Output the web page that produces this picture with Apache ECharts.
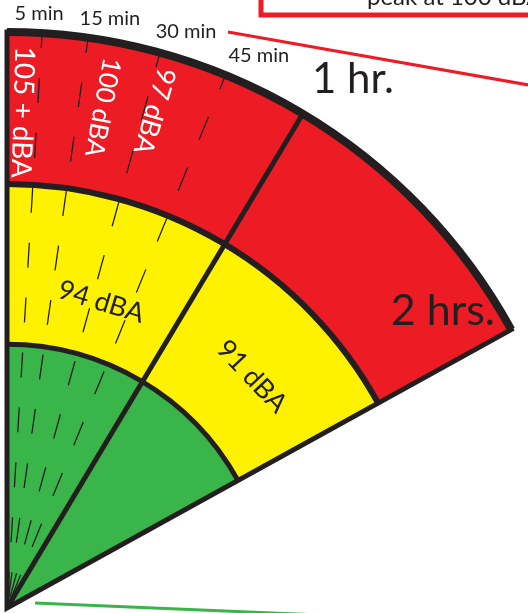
<!DOCTYPE html>
<html>
<head>
<meta charset="utf-8">
<script src="https://cdn.jsdelivr.net/npm/echarts@6/dist/echarts.min.js"></script>
<style>
  html, body { margin: 0; padding: 0; background: #fff; }
  #chart { width: 528px; height: 613px; }
</style>
</head>
<body>
<div id="chart"></div>
<script>
// fan: three exposure bands x two time wedges
// radius in % of the fan, angle in degrees clockwise from vertical
var bandOuter = [45.8, 73.6, 100];
var wedgeEdges = [0, 30.9, 61.1];

// minute marks inside the 1 hr wedge
var minuteLabels = ['5 min', '15 min', '30 min', '45 min', '1 hr.'];
var minuteDashAngles = [3.5, 8.1, 15.4, 22.3];
var minuteLabelAngles = [3.1, 9.9, 17.25, 24.5, 33.2];
var minuteLabelRadius = [103.3, 103.9, 104.8, 105.4, 109.7];

// sound level labels
var levelLabels = ['105 + dBA', '100 dBA', '97 dBA', '94 dBA', '91 dBA', '2 hrs.'];
var levelAngles = [1.8, 10.8, 16.5, 17.1, 46.6, 55.7];
var levelRadius = [86.1, 88.5, 90, 55.6, 58.5, 91.6];

var INK = '#231F20';
var FONT = 'Lato';
var bandColors = ['#39B54A', '#FFF200', '#ED1C24'];
var bandLineWidth = [5, 6, 8];
// color, size, orientation
var levelStyle = [
    ['#fff', 28, 'radial'],
    ['#fff', 26, 'radial'],
    ['#fff', 27, 'radial'],
    [INK, 27, 'tangent'],
    [INK, 27, 'tangent'],
    [INK, 43, 'flat']
];

var wedgeData = [];
bandOuter.forEach(function (r, b) {
    var r0 = b === 0 ? 0 : bandOuter[b - 1];
    for (var w = 0; w < wedgeEdges.length - 1; w++) {
        wedgeData.push([r0, r, wedgeEdges[w], wedgeEdges[w + 1], b]);
    }
});

function screenAngle(cs, p) {
    return Math.atan2(p[1] - cs.cy, p[0] - cs.cx);
}
function dist(cs, p) {
    return Math.sqrt((p[0] - cs.cx) * (p[0] - cs.cx) + (p[1] - cs.cy) * (p[1] - cs.cy));
}

function wedgeItem(params, api) {
    var cs = params.coordSys;
    var pIn = api.coord([api.value(0), api.value(2)]);
    var pA = api.coord([api.value(1), api.value(2)]);
    var pB = api.coord([api.value(1), api.value(3)]);
    return {
        type: 'sector',
        shape: {
            cx: cs.cx, cy: cs.cy, r0: dist(cs, pIn), r: dist(cs, pA),
            startAngle: screenAngle(cs, pA), endAngle: screenAngle(cs, pB), clockwise: true
        },
        style: { fill: bandColors[api.value(4)] }
    };
}

function dashItem(params, api) {
    var p0 = api.coord([0, api.value(0)]);
    var p1 = api.coord([100, api.value(0)]);
    return {
        type: 'line',
        shape: { x1: p0[0], y1: p0[1], x2: p1[0], y2: p1[1] },
        style: { stroke: INK, lineWidth: 1.3, lineDash: [25, 30], lineDashOffset: 44 }
    };
}

function outlineItem(params, api) {
    var cs = params.coordSys;
    var last = wedgeEdges[wedgeEdges.length - 1];
    var pA = api.coord([100, wedgeEdges[0]]);
    var pB = api.coord([100, last]);
    var children = [{
        type: 'sector',
        shape: { cx: cs.cx, cy: cs.cy, r0: 0, r: dist(cs, pA),
            startAngle: screenAngle(cs, pA), endAngle: screenAngle(cs, pB), clockwise: true },
        style: { fill: 'none', stroke: INK, lineWidth: 5, lineJoin: 'miter' }
    }];
    bandOuter.forEach(function (r, b) {
        var a = api.coord([r, wedgeEdges[0]]);
        var e = api.coord([r, last]);
        children.push({
            type: 'arc',
            shape: { cx: cs.cx, cy: cs.cy, r: dist(cs, a),
                startAngle: screenAngle(cs, a), endAngle: screenAngle(cs, e), clockwise: true },
            style: { fill: 'none', stroke: INK, lineWidth: bandLineWidth[b] }
        });
    });
    for (var w = 1; w < wedgeEdges.length - 1; w++) {
        var q0 = api.coord([0, wedgeEdges[w]]);
        var q1 = api.coord([100, wedgeEdges[w]]);
        children.push({
            type: 'line',
            shape: { x1: q0[0], y1: q0[1], x2: q1[0], y2: q1[1] },
            style: { stroke: INK, lineWidth: 5 }
        });
    }
    return { type: 'group', children: children };
}

function minuteLabelItem(params, api) {
    var i = params.dataIndex;
    var p = api.coord([api.value(0), api.value(1)]);
    return {
        type: 'text', x: p[0], y: p[1],
        style: {
            text: minuteLabels[i], fill: INK, fontFamily: FONT,
            fontSize: i === minuteLabels.length - 1 ? 42 : 20,
            align: 'center', verticalAlign: 'middle'
        }
    };
}

function levelLabelItem(params, api) {
    var i = params.dataIndex;
    var a = api.value(1);
    var st = levelStyle[i];
    var p = api.coord([api.value(0), a]);
    var rot = 0;
    if (st[2] === 'radial') rot = -(90 + a) * Math.PI / 180;
    if (st[2] === 'tangent') rot = -a * Math.PI / 180;
    return {
        type: 'text', x: p[0], y: p[1], rotation: rot,
        style: {
            text: levelLabels[i], fill: st[0], fontFamily: FONT, fontSize: st[1],
            align: 'center', verticalAlign: 'middle'
        }
    };
}

var chart = echarts.init(document.getElementById('chart'));
chart.setOption({
    animation: false,
    polar: { center: [7, 608], radius: 576 },
    angleAxis: { type: 'value', min: 0, max: 360, startAngle: 90, clockwise: true, show: false },
    radiusAxis: { type: 'value', min: 0, max: 100, show: false },
    graphic: [
        { type: 'rect', shape: { x: 261, y: -30, width: 320, height: 45 },
          style: { fill: 'none', stroke: '#ED1C24', lineWidth: 5 } },
        { type: 'text', x: 367, y: 9,
          style: { text: 'peak at 100 dBA', fill: INK, fontFamily: FONT, fontSize: 24, verticalAlign: 'bottom' } },
        { type: 'line', shape: { x1: 228, y1: 32, x2: 540, y2: 87 },
          style: { stroke: '#ED1C24', lineWidth: 3 } },
        { type: 'line', shape: { x1: 35, y1: 603, x2: 320, y2: 615 },
          style: { stroke: '#39B54A', lineWidth: 3 } }
    ],
    series: [
        { type: 'custom', coordinateSystem: 'polar', renderItem: wedgeItem, data: wedgeData, silent: true },
        { type: 'custom', coordinateSystem: 'polar', renderItem: dashItem,
          data: minuteDashAngles.map(function (a) { return [a]; }), silent: true },
        { type: 'custom', coordinateSystem: 'polar', renderItem: outlineItem, data: [[0]], silent: true },
        { type: 'custom', coordinateSystem: 'polar', renderItem: minuteLabelItem,
          data: minuteLabels.map(function (t, i) { return [minuteLabelRadius[i], minuteLabelAngles[i]]; }), silent: true },
        { type: 'custom', coordinateSystem: 'polar', renderItem: levelLabelItem,
          data: levelLabels.map(function (t, i) { return [levelRadius[i], levelAngles[i]]; }), silent: true }
    ]
});
</script>
</body>
</html>
